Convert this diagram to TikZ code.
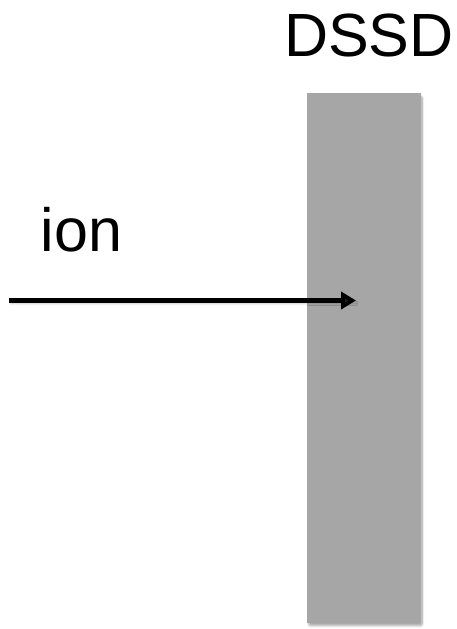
\documentclass[tikz,border=0pt]{standalone}
\usepackage{fontspec}
\setmainfont{Liberation Sans}
\usetikzlibrary{arrows.meta,shadows.blur}
\definecolor{detgray}{HTML}{A6A6A6}
\tikzset{
  label text/.style={inner sep=0pt, font=\fontsize{61}{72}\selectfont},
  detector/.style={fill=detgray, draw=none, minimum width=113.5pt, minimum height=529.5pt, inner sep=0pt,
    blur shadow={shadow xshift=1.5pt, shadow yshift=-3pt, shadow blur steps=8, shadow blur extra rounding=2pt, shadow opacity=35}},
  beam/.style={line width=5.6pt, -{Triangle[length=15pt,width=17pt]},
    blur shadow={shadow xshift=1pt, shadow yshift=-3pt, shadow opacity=25}},
}
\begin{document}
\begin{tikzpicture}[x=1pt,y=-1pt]
  \useasboundingbox (0,0) rectangle (457,629);
  % detector slab
  \node[detector] (dssd) at (364,358) {};
  % labels
  \node[label text, anchor=base] (dssdlabel) at (369,56) {DSSD};
  \node[label text, anchor=base] (ionlabel) at (81.5,251) {ion};
  % incoming ion beam
  \coordinate (beamstart) at (9,300.5);
  \coordinate (beamend) at (356,300.5);
  \draw[beam] (beamstart) -- (beamend);
\end{tikzpicture}
\end{document}
